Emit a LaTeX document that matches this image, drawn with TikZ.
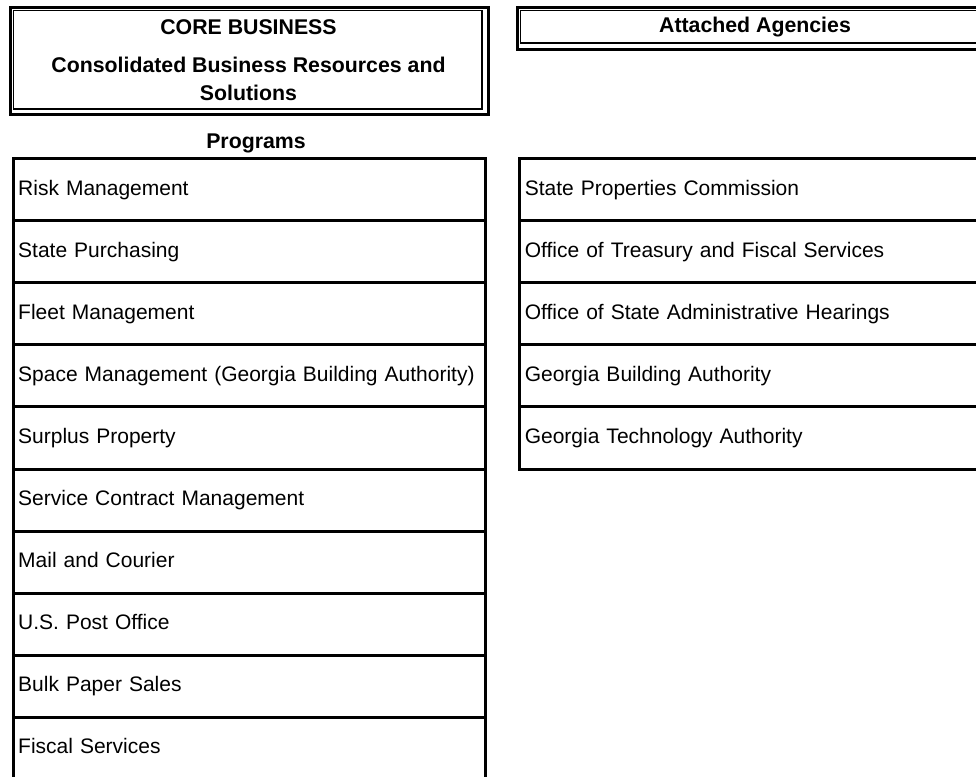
\documentclass[tikz,border=0pt]{standalone}
\usepackage{fontspec}
\setmainfont{Liberation Sans}
\begin{document}
\begin{tikzpicture}[x=1pt,y=-1pt,
  cell/.style={draw, line width=3pt, minimum width=472pt, minimum height=62.1pt,
    text width=462pt, inner xsep=5pt, align=left, text height=15.3pt, text depth=4.3pt,
    font=\fontsize{21}{25}\selectfont, anchor=north west},
  outerbox/.style={draw, line width=3pt, anchor=north west, inner sep=0pt},
  innerbox/.style={draw, line width=1.5pt, anchor=north west, inner sep=0pt},
  hdr/.style={font=\fontsize{21.3}{28}\selectfont\bfseries, inner sep=0pt}]
\useasboundingbox (0,0) rectangle (976,776);
\clip (0,0) rectangle (976,776);
% header boxes
\node[outerbox, minimum width=477.7pt, minimum height=107.3pt] (core) at (9,5.7) {};
\node[innerbox, minimum width=468.2pt, minimum height=98.3pt] (corein) at (12.8,10) {};
\node[outerbox, minimum width=477.7pt, minimum height=42.6pt] (att) at (515.8,5.7) {};
\node[innerbox, minimum width=468.2pt, minimum height=32.3pt] (attin) at (519.8,10) {};
\node[hdr] (t1) at (248.5,27) {CORE BUSINESS};
\node[hdr, align=center] (t2) at (248.5,79) {Consolidated Business Resources and\\Solutions};
\node[hdr] (t3) at (256,143) {Programs};
\node[hdr] (t4) at (755,27) {Attached Agencies};
% programs
\foreach \t [count=\i from 0] in {Risk Management, State Purchasing, Fleet Management,
  Space Management (Georgia Building Authority), Surplus Property,
  Service Contract Management, Mail and Courier, U.S. Post Office,
  Bulk Paper Sales, Fiscal Services}
  \node[cell] (p\i) at (11.7,157+62.1*\i) {\mbox{\t}};
% agencies
\foreach \t [count=\i from 0] in {State Properties Commission,
  Office of Treasury and Fiscal Services, Office of State Administrative Hearings,
  Georgia Building Authority, Georgia Technology Authority}
  \node[cell] (a\i) at (518.3,157+62.1*\i) {\mbox{\t}};
\end{tikzpicture}
\end{document}
